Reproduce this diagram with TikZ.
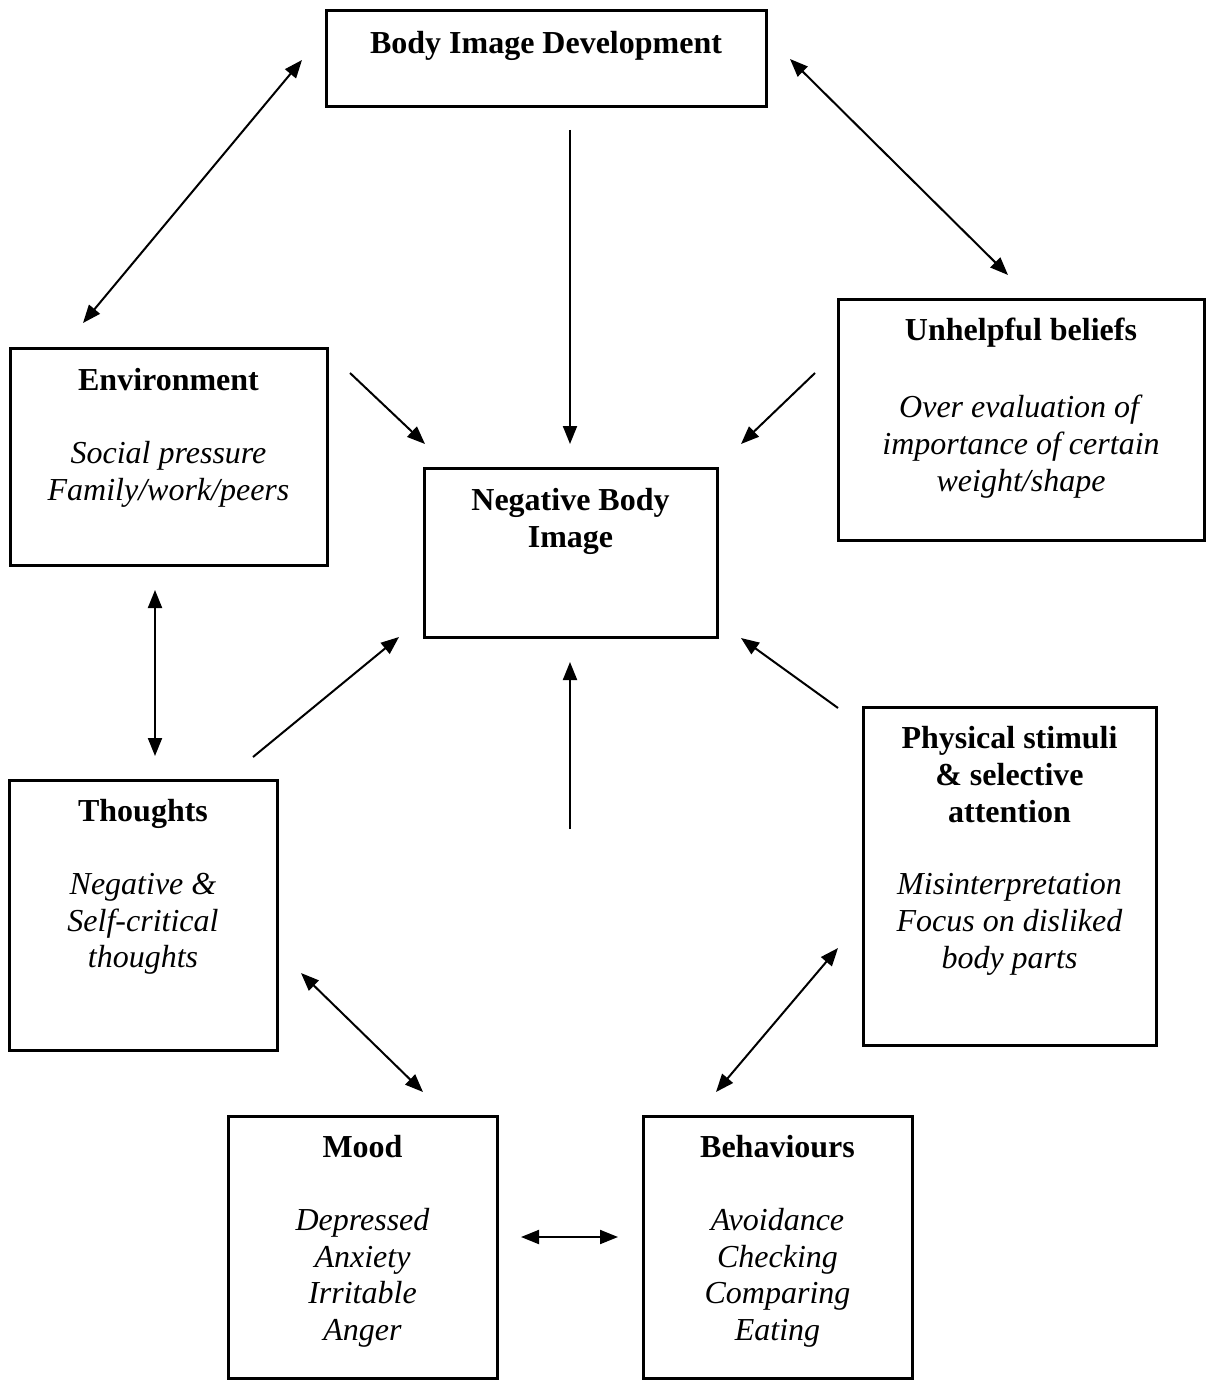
\documentclass[tikz,border=0pt]{standalone}
\usepackage{fontspec}
\setmainfont{Liberation Serif}
\usetikzlibrary{arrows.meta}
\begin{document}
\begin{tikzpicture}[x=0.5pt,y=-0.5pt,
  panel/.style={draw, line width=1.5pt, inner sep=0pt},
  boxtext/.style={anchor=north, inner sep=0pt, align=center,
    font=\fontsize{16pt}{18.35pt}\selectfont},
  tip/.style={Triangle[length=9pt,width=7pt]},
  link/.style={line width=1pt, -{Triangle[length=9pt,width=7pt]}},
  twoway/.style={line width=1pt, {Triangle[length=9pt,width=7pt]}-{Triangle[length=9pt,width=7pt]}}]

\useasboundingbox (0,0) rectangle (1213,1380);

% Boxes
\node[panel, minimum width=220pt,   minimum height=48pt]    (bid)  at (546,59)      {};
\node[panel, minimum width=158.5pt, minimum height=108.5pt] (env)  at (168.5,456.5) {};
\node[panel, minimum width=146.5pt, minimum height=84.5pt]  (nbi)  at (570.5,552.5) {};
\node[panel, minimum width=183pt,   minimum height=120.5pt] (unh)  at (1021,419.5) {};
\node[panel, minimum width=134pt,   minimum height=135pt]   (tho)  at (143,915)     {};
\node[panel, minimum width=146.5pt, minimum height=169pt]   (phy)  at (1009.5,876)  {};
\node[panel, minimum width=134.5pt, minimum height=131pt]   (mood) at (362.5,1247)  {};
\node[panel, minimum width=134.5pt, minimum height=131pt]   (beh)  at (777.5,1247)  {};

% Box texts
\node[boxtext] (bid-t) at (546,31) {\textbf{Body Image Development}};
\node[boxtext] (env-t) at (168.5,368)
  {\textbf{Environment}\\[18pt]\textit{Social pressure}\\\textit{Family/work/peers}};
\node[boxtext] (nbi-t) at (570.5,488) {\textbf{Negative Body}\\\textbf{Image}};
\node[boxtext] (unh-t) at (1021,318)
  {\textbf{Unhelpful beliefs}\\[20pt]\textit{Over evaluation of}\\\textit{importance of certain}\\\textit{weight/shape}};
\node[boxtext] (tho-t) at (143,799)
  {\textbf{Thoughts}\\[18pt]\textit{Negative \&}\\\textit{Self-critical}\\\textit{thoughts}};
\node[boxtext] (phy-t) at (1009.5,726)
  {\textbf{Physical stimuli}\\\textbf{\& selective}\\\textbf{attention}\\[18pt]\textit{Misinterpretation}\\\textit{Focus on disliked}\\\textit{body parts}};
\node[boxtext] (mood-t) at (362.5,1135)
  {\textbf{Mood}\\[18pt]\textit{Depressed}\\\textit{Anxiety}\\\textit{Irritable}\\\textit{Anger}};
\node[boxtext] (beh-t) at (777.5,1135)
  {\textbf{Behaviours}\\[18pt]\textit{Avoidance}\\\textit{Checking}\\\textit{Comparing}\\\textit{Eating}};

% Connector end points (arrows stop short of the boxes)
\coordinate (bid-env) at (302,60);   \coordinate (env-bid) at (83,323);
\coordinate (bid-unh) at (790,59);   \coordinate (unh-bid) at (1008,275);
\coordinate (bid-nbi) at (570,130);  \coordinate (nbi-bid) at (570,444);
\coordinate (env-nbi) at (350,373);  \coordinate (nbi-env) at (425,444);
\coordinate (unh-nbi) at (815,373);  \coordinate (nbi-unh) at (741,444);
\coordinate (env-tho) at (155,590);  \coordinate (tho-env) at (155,756);
\coordinate (tho-nbi) at (253,757);  \coordinate (nbi-tho) at (399,637);
\coordinate (cycle)   at (570,829);  \coordinate (nbi-cyc) at (570,662);
\coordinate (phy-nbi) at (838,708);  \coordinate (nbi-phy) at (741,638);
\coordinate (tho-mood) at (301,973); \coordinate (mood-tho) at (423,1092);
\coordinate (phy-beh) at (838,948);  \coordinate (beh-phy) at (716,1092);
\coordinate (mood-beh) at (521,1237); \coordinate (beh-mood) at (618,1237);

% Connectors
\draw[twoway] (bid-env) -- (env-bid);
\draw[twoway] (bid-unh) -- (unh-bid);
\draw[link]   (bid-nbi) -- (nbi-bid);
\draw[link]   (env-nbi) -- (nbi-env);
\draw[link]   (unh-nbi) -- (nbi-unh);
\draw[twoway] (env-tho) -- (tho-env);
\draw[link]   (tho-nbi) -- (nbi-tho);
\draw[link]   (cycle)   -- (nbi-cyc);
\draw[link]   (phy-nbi) -- (nbi-phy);
\draw[twoway] (tho-mood) -- (mood-tho);
\draw[twoway] (phy-beh) -- (beh-phy);
\draw[twoway] (mood-beh) -- (beh-mood);
\end{tikzpicture}
\end{document}
